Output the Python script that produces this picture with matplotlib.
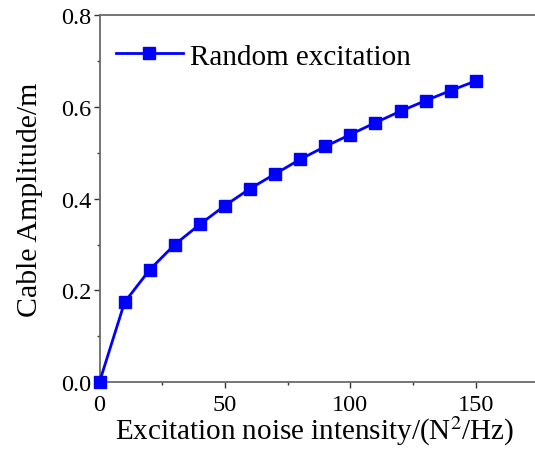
import numpy as np
import matplotlib
matplotlib.use("Agg")
import matplotlib.pyplot as plt
from matplotlib.ticker import MultipleLocator

# Data
intensity = [0, 10, 20, 30, 40, 50, 60, 70, 80, 90, 100, 110, 120, 130, 140, 150]
amplitude = [0.0, 0.174, 0.245, 0.300, 0.344, 0.385, 0.422, 0.454, 0.486,
             0.514, 0.540, 0.566, 0.591, 0.614, 0.636, 0.657]
x_ticks = [0, 50, 100, 150]
y_ticks = [0.0, 0.2, 0.4, 0.6, 0.8]

plt.rcParams['font.family'] = ['Liberation Serif', 'DejaVu Serif']
plt.rcParams['mathtext.fontset'] = 'stix'

fig = plt.figure(figsize=(5.35, 4.52), dpi=100)
ax = fig.add_axes([0.186, 0.1527, 0.814, 0.811])

ax.plot(intensity, amplitude, color='#0000ff', linewidth=2.0, marker='s',
        markersize=8, label='Random excitation', clip_on=False, zorder=5)

ax.set_xlim(0, 173.6)
ax.set_ylim(0, 0.8)
ax.set_xticks(x_ticks)
ax.set_yticks(y_ticks)
ax.set_yticklabels([f"{v:.1f}" for v in y_ticks])
ax.xaxis.set_minor_locator(MultipleLocator(25))
ax.yaxis.set_minor_locator(MultipleLocator(0.1))

spine_color = '#6a6a6a'
for side in ['left', 'bottom', 'top']:
    ax.spines[side].set_color(spine_color)
    ax.spines[side].set_linewidth(1.3)
ax.spines['right'].set_visible(False)

ax.tick_params(which='major', direction='out', length=4, width=1.0,
               color='#333333', labelsize=17.5, pad=2)
ax.tick_params(axis='x', which='major', pad=5)
ax.tick_params(which='minor', direction='out', length=2.5, width=1.0,
               color='#333333')
ax.tick_params(top=False, right=False, which='both')

ax.set_xlabel('Excitation noise intensity/(N$^2$/Hz)', fontsize=21,
              verticalalignment='bottom')
ax.xaxis.set_label_coords(0.493, -0.178)
ax.set_ylabel('Cable Amplitude/m', fontsize=21.5, labelpad=13)

ax.legend(loc='upper left', frameon=False, fontsize=21, handlelength=2.3,
          handletextpad=0.25, bbox_to_anchor=(-0.01, 0.98), borderaxespad=0.3)

fig.savefig('out.png', dpi=100)
